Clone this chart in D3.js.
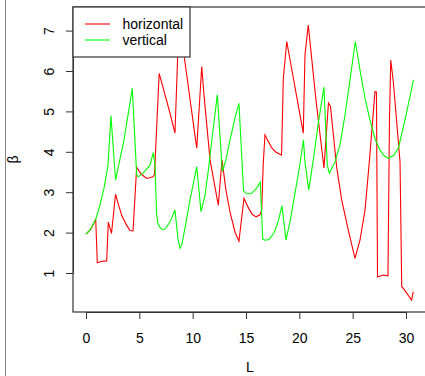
<!DOCTYPE html>
<html>
<head>
<meta charset="utf-8">
<script src="https://cdn.jsdelivr.net/npm/d3@7"></script>
<style>
  body { margin: 0; background: #fff; }
  svg { display: block; font-family: "Liberation Sans", Arial, sans-serif; }
</style>
</head>
<body>
<div id="graphArea"></div>
<script>
// beta vs L
var horizontal = [
  [0,1.965],[0.47,2.09],[0.91,2.33],[1.06,1.255],[1.41,1.285],[1.94,1.30],[2.09,2.26],[2.39,1.98],
  [2.77,2.95],[3.0,2.73],[3.37,2.41],[3.75,2.21],[4.12,2.05],[4.41,2.04],[4.75,3.62],[5.16,3.45],
  [5.69,3.34],[6.28,3.38],[6.42,3.43],[6.86,5.94],[7.41,5.41],[7.87,4.96],[8.34,4.46],[8.72,7.30],
  [10.38,4.09],[10.85,6.11],[11.06,5.41],[11.63,3.80],[12.40,2.68],[12.75,3.80],[13.12,3.05],[13.50,2.51],
  [13.97,2.01],[14.34,1.79],[14.81,2.85],[15.19,2.63],[15.56,2.46],[15.94,2.39],[16.31,2.44],[16.47,2.56],
  [16.62,3.72],[16.78,4.42],[17.06,4.27],[17.44,4.09],[17.81,3.99],[18.33,3.92],[18.50,5.82],[18.82,6.73],
  [20.37,4.46],[20.53,6.40],[20.84,7.14],[21.0,6.72],[21.56,5.28],[22.31,3.60],[22.73,5.21],[22.92,5.13],
  [23.50,3.62],[23.97,2.81],[24.59,2.06],[25.22,1.36],[25.69,1.82],[26.16,2.56],[26.56,3.75],[27.09,5.49],
  [27.23,5.48],[27.33,0.90],[27.87,0.95],[28.31,0.93],[28.45,4.79],[28.57,6.27],[28.81,5.74],[29.44,3.75],
  [29.60,0.66],[29.75,0.62],[30.53,0.33],[30.68,0.54]
]
var vertical = [
  [0,1.965],[0.37,2.06],[0.91,2.33],[1.31,2.68],[1.69,3.10],[2.06,3.67],[2.34,4.89],[2.77,3.30],
  [3.56,4.29],[4.34,5.57],[4.75,3.43],[4.90,3.38],[5.37,3.48],[6.0,3.67],[6.31,3.98],[6.47,3.67],
  [6.62,2.45],[6.75,2.22],[6.94,2.13],[7.15,2.08],[7.41,2.09],[7.87,2.26],[8.34,2.56],[8.62,1.85],
  [8.81,1.61],[9.0,1.72],[9.28,2.11],[9.75,2.81],[10.38,3.63],[10.78,2.52],[11.16,2.93],[11.47,3.55],
  [11.91,4.54],[12.31,5.41],[12.78,3.51],[13.12,3.80],[13.50,4.29],[13.97,4.84],[14.34,5.20],[14.77,3.03],
  [15.09,2.96],[15.47,2.96],[15.94,3.08],[16.34,3.25],[16.57,1.84],[16.78,1.81],[17.16,1.83],[17.62,1.99],
  [18.0,2.26],[18.37,2.66],[18.75,1.82],[19.12,2.26],[19.59,2.97],[19.97,3.55],[20.39,4.29],[20.53,3.75],
  [20.88,3.05],[21.31,3.80],[21.75,4.66],[22.31,5.60],[22.62,3.67],[22.81,3.47],[23.34,3.75],[23.81,4.17],
  [24.28,4.91],[24.75,5.78],[25.25,6.73],[25.69,6.02],[26.16,5.32],[26.62,4.79],[27.09,4.33],[27.56,4.04],
  [27.95,3.90],[28.36,3.84],[28.87,3.92],[29.28,4.09],[29.91,4.79],[30.70,5.78]
]
var xTicks = [0, 5, 10, 15, 20, 25, 30]
var yTicks = [1, 2, 3, 4, 5, 6, 7]
var seriesNames = ["horizontal", "vertical"]
var seriesColors = ["#ff0000", "#00ff00"]

var W = 425, H = 376
var box = { left: 73, top: 7, right: 427, bottom: 312 }

var svg = d3.select("#graphArea").append("svg")
  .attr("width", W)
  .attr("height", H)

var x = d3.scaleLinear().domain([0, 30]).range([86, 406])
var y = d3.scaleLinear().domain([1, 7]).range([273, 30.6])

// window edge line at far left
svg.append("line")
  .attr("x1", 5.5).attr("x2", 5.5).attr("y1", 0).attr("y2", H)
  .attr("stroke", "#888").attr("stroke-width", 1)

var line = d3.line()
  .x(function(d) { return x(d[0]) })
  .y(function(d) { return y(d[1]) })

var plot = svg.append("g")
plot.append("path")
  .datum(horizontal)
  .attr("d", line)
  .attr("fill", "none")
  .attr("stroke", seriesColors[0])
  .attr("stroke-width", 1.1)
plot.append("path")
  .datum(vertical)
  .attr("d", line)
  .attr("fill", "none")
  .attr("stroke", seriesColors[1])
  .attr("stroke-width", 1.1)

// axes
var xAxis = svg.append("g")
  .attr("transform", "translate(0," + box.bottom + ")")
  .call(d3.axisBottom(x).tickValues(xTicks).tickFormat(d3.format("d")).tickSize(7).tickSizeOuter(0))
xAxis.selectAll("text")
  .attr("y", 30.5).attr("dy", null)
  .attr("font-size", 14).attr("fill", "#000")
  .attr("font-family", "Liberation Sans, Arial, sans-serif")

var yAxis = svg.append("g")
  .attr("transform", "translate(" + box.left + ",0)")
  .call(d3.axisLeft(y).tickValues(yTicks).tickFormat(d3.format("d")).tickSize(7).tickSizeOuter(0))
yAxis.selectAll("text")
  .attr("x", null).attr("dy", null)
  .attr("text-anchor", "middle")
  .attr("transform", "translate(-19.5,0) rotate(-90)")
  .attr("font-size", 14).attr("fill", "#000")
  .attr("font-family", "Liberation Sans, Arial, sans-serif")

svg.selectAll(".tick line").attr("stroke", "#333")
svg.selectAll(".domain").attr("stroke", "#333")

// plot box
svg.append("rect")
  .attr("x", box.left).attr("y", box.top)
  .attr("width", box.right - box.left).attr("height", box.bottom - box.top)
  .attr("fill", "none").attr("stroke", "#333").attr("stroke-width", 1.2)

// axis titles
svg.append("text")
  .attr("x", (box.left + box.right) / 2).attr("y", 372)
  .attr("text-anchor", "middle").attr("font-size", 14)
  .text("L")
svg.append("text")
  .attr("transform", "translate(18," + (box.top + box.bottom) / 2 + ") rotate(-90)")
  .attr("text-anchor", "middle").attr("font-size", 14)
  .text("β")

// legend
var legend = svg.append("g")
legend.append("rect")
  .attr("x", box.left).attr("y", box.top)
  .attr("width", 117).attr("height", 50)
  .attr("fill", "#fff").attr("stroke", "#333").attr("stroke-width", 1.2)
seriesNames.forEach(function(name, i) {
  var ly = 24 + i * 16
  legend.append("line")
    .attr("x1", 85).attr("x2", 110).attr("y1", ly).attr("y2", ly)
    .attr("stroke", seriesColors[i]).attr("stroke-width", 1.1)
  legend.append("text")
    .attr("x", 122.5).attr("y", ly + 5)
    .attr("font-size", 14)
    .text(name)
})
</script>
</body>
</html>
